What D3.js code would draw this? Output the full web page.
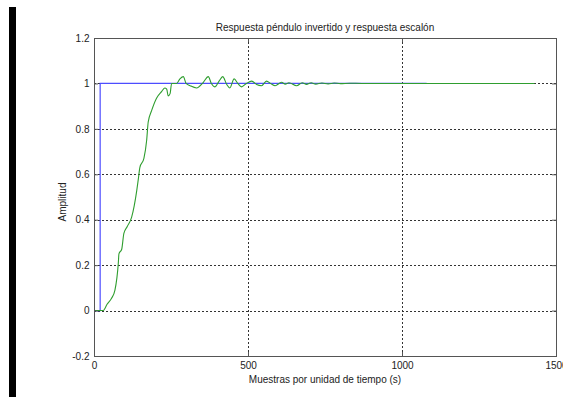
<!DOCTYPE html>
<html>
<head>
<meta charset="utf-8">
<script src="https://cdn.jsdelivr.net/npm/d3@7"></script>
<style>
  body { margin: 0; background: #fff; }
  text { font-family: "Liberation Sans", Arial, sans-serif; fill: #222; }
</style>
</head>
<body>
<script>
// tick values
var xTicks = [0, 500, 1000, 1500];
var yTicks = [-0.2, 0, 0.2, 0.4, 0.6, 0.8, 1, 1.2];

// step input (blue): [sample, amplitude]
var stepSamples = [0, 20, 20, 1080];
var stepValues  = [0, 0, 1, 1];

// pendulum response (green), read point by point
var respSamples = [0, 30, 43, 57, 68, 79, 81, 90, 97, 108, 122, 139, 144, 149, 162, 171, 176, 187, 203, 220, 230, 236, 241, 247, 252, 268, 279, 290, 299, 312, 333, 355, 371, 381, 393, 406, 418, 431, 441, 455, 467, 479, 495, 512, 528, 544, 560, 575, 588, 609, 621, 633, 658, 676, 690, 705, 720, 740, 760, 780, 800, 830, 870, 1430];
var respValues  = [0, 0, 0.029, 0.054, 0.09, 0.21, 0.25, 0.27, 0.34, 0.37, 0.41, 0.53, 0.58, 0.63, 0.67, 0.75, 0.83, 0.88, 0.935, 0.965, 0.98, 0.975, 0.945, 0.955, 1.0, 1.0, 1.02, 1.03, 1.0, 0.99, 0.98, 1.005, 1.03, 1.0, 0.985, 1.01, 1.03, 0.995, 0.98, 1.02, 1.0, 0.985, 1.0, 1.01, 0.995, 0.99, 1.01, 0.998, 0.99, 1.005, 0.997, 1.003, 0.99, 1.003, 0.996, 1.003, 0.997, 1.002, 0.998, 1.002, 0.999, 1.001, 1.0, 1.0];

var width = 563, height = 397;
var padL = 94, padR = 556, padT = 38, padB = 356;

var svg = d3.select("body").append("svg")
    .attr("width", width)
    .attr("height", height);

svg.append("rect").attr("width", width).attr("height", height).attr("fill", "#fff");

// black strip on the left edge
svg.append("rect")
    .attr("x", 9).attr("y", 7)
    .attr("width", 7).attr("height", 390)
    .attr("fill", "#000");

var x = d3.scaleLinear().domain([0, 1500]).range([padL, padR]);
var y = d3.scaleLinear().domain([-0.2, 1.2]).range([padB, padT]);

// grid lines
var grid = svg.append("g")
    .attr("stroke", "#333")
    .attr("stroke-width", 1)
    .attr("stroke-dasharray", "2,2");

grid.selectAll(".gx")
    .data(xTicks.slice(1, -1))
    .enter().append("line")
    .attr("x1", function(d) { return Math.round(x(d)) + 0.5; })
    .attr("x2", function(d) { return Math.round(x(d)) + 0.5; })
    .attr("y1", padT).attr("y2", padB);

grid.selectAll(".gy")
    .data(yTicks.slice(1, -1))
    .enter().append("line")
    .attr("y1", function(d) { return Math.round(y(d)) + 0.5; })
    .attr("y2", function(d) { return Math.round(y(d)) + 0.5; })
    .attr("x1", padL).attr("x2", padR);

// data lines
var stepData = stepSamples.map(function(s, i) { return [s, stepValues[i]]; });
var respData = respSamples.map(function(s, i) { return [s, respValues[i]]; });

svg.append("path")
    .datum(stepData)
    .attr("d", d3.line()
        .x(function(d) { return x(d[0]); })
        .y(function(d) { return y(d[1]); }))
    .attr("fill", "none")
    .attr("stroke", "#4d4dff")
    .attr("stroke-width", 1.2);

svg.append("path")
    .datum(respData)
    .attr("d", d3.line().curve(d3.curveMonotoneX)
        .x(function(d) { return x(d[0]); })
        .y(function(d) { return y(d[1]); }))
    .attr("fill", "none")
    .attr("stroke", "#2f9e2f")
    .attr("stroke-width", 1.1);

// axes labels
var xAxis = svg.append("g")
    .attr("transform", "translate(0," + (padB + 0.5) + ")")
    .call(d3.axisBottom(x).tickValues(xTicks).tickSize(0).tickPadding(5)
        .tickFormat(d3.format("d")));
xAxis.select(".domain").remove();
xAxis.selectAll("text").style("font-size", "10px").attr("fill", "#222");

var yAxis = svg.append("g")
    .attr("transform", "translate(" + (padL - 0.5) + ",0)")
    .call(d3.axisLeft(y).tickValues(yTicks).tickSize(0).tickPadding(4)
        .tickFormat(function(d) { return String(+d.toFixed(1)); }));
yAxis.select(".domain").remove();
yAxis.selectAll("text").style("font-size", "10px").attr("fill", "#222");

// box
svg.append("rect")
    .attr("x", padL + 0.5).attr("y", padT + 0.5)
    .attr("width", padR - padL).attr("height", padB - padT)
    .attr("fill", "none")
    .attr("stroke", "#555")
    .attr("stroke-width", 1);

// tiny inward ticks
var tk = svg.append("g").attr("stroke", "#555");
xTicks.forEach(function(d) {
  tk.append("line").attr("x1", x(d) + 0.5).attr("x2", x(d) + 0.5)
    .attr("y1", padB).attr("y2", padB - 4);
  tk.append("line").attr("x1", x(d) + 0.5).attr("x2", x(d) + 0.5)
    .attr("y1", padT).attr("y2", padT + 4);
});
yTicks.forEach(function(d) {
  tk.append("line").attr("y1", y(d) + 0.5).attr("y2", y(d) + 0.5)
    .attr("x1", padL).attr("x2", padL + 4);
  tk.append("line").attr("y1", y(d) + 0.5).attr("y2", y(d) + 0.5)
    .attr("x1", padR).attr("x2", padR - 4);
});

// titles
svg.append("text")
    .attr("x", (padL + padR) / 2).attr("y", 31)
    .attr("text-anchor", "middle")
    .style("font-size", "10px")
    .text("Respuesta péndulo invertido y respuesta escalón");

svg.append("text")
    .attr("x", (padL + padR) / 2).attr("y", 383)
    .attr("text-anchor", "middle")
    .style("font-size", "10px")
    .text("Muestras por unidad de tiempo (s)");

svg.append("text")
    .attr("transform", "translate(66,202) rotate(-90)")
    .attr("text-anchor", "middle")
    .style("font-size", "10px")
    .text("Amplitud");
</script>
</body>
</html>
